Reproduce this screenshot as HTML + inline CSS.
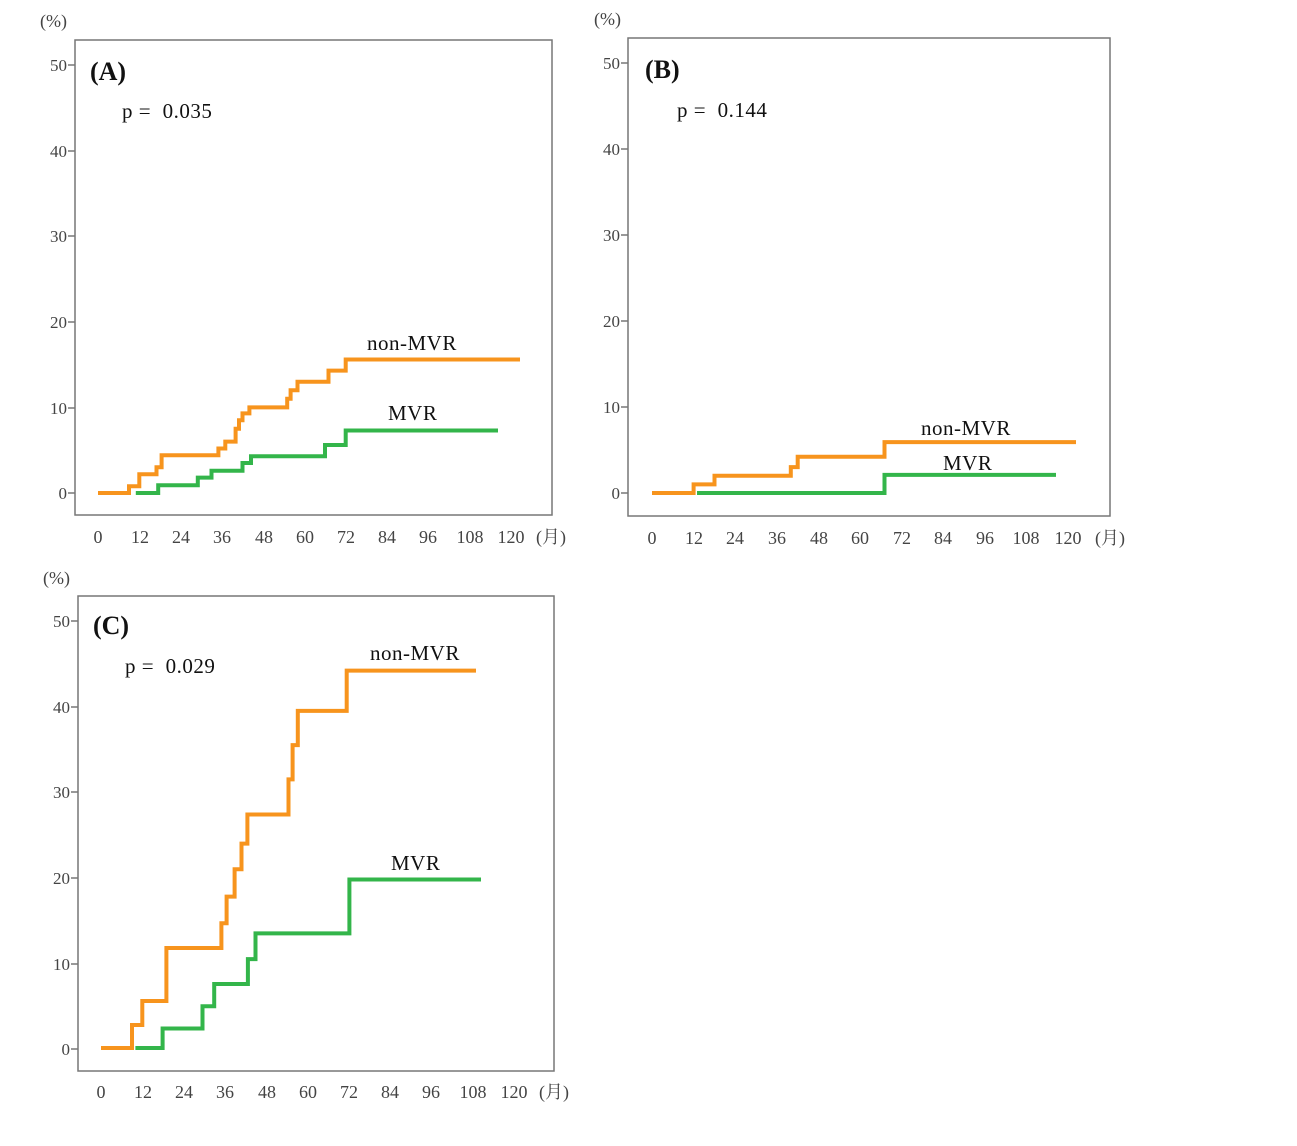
<!DOCTYPE html>
<html><head><meta charset="utf-8"><style>
html,body{margin:0;padding:0;background:#fff;}
svg{display:block;}
text{font-family:"Liberation Serif","Noto Serif CJK SC",serif;}
.t{font-size:18px;fill:#444;}
.yl{font-size:17px;fill:#444;font-family:"Liberation Sans",sans-serif;}
.lab{font-size:21px;fill:#111;white-space:pre;letter-spacing:0.5px;}
.big{font-size:26px;fill:#111;font-weight:bold;}
.or{fill:none;stroke:#f7941d;stroke-width:4;}
.gr{fill:none;stroke:#33b54a;stroke-width:4;}
.box{fill:none;stroke:#777;stroke-width:1.5;}
</style></head><body>
<svg width="1297" height="1146" viewBox="0 0 1297 1146" xmlns="http://www.w3.org/2000/svg">
<!-- Panel A -->
<text x="40" y="27" class="t" font-size="16">(%)</text>
<rect x="75" y="40" width="477" height="475" class="box"/>
<g stroke="#777" stroke-width="1.5">
<line x1="68" y1="65" x2="75" y2="65"/><line x1="68" y1="151" x2="75" y2="151"/><line x1="68" y1="236" x2="75" y2="236"/><line x1="68" y1="322" x2="75" y2="322"/><line x1="68" y1="408" x2="75" y2="408"/><line x1="68" y1="493" x2="75" y2="493"/>
</g>
<g class="yl" text-anchor="end">
<text x="67" y="71">50</text><text x="67" y="157">40</text><text x="67" y="242">30</text><text x="67" y="328">20</text><text x="67" y="414">10</text><text x="67" y="499">0</text>
</g>
<g class="t" text-anchor="middle">
<text x="98" y="543">0</text><text x="140" y="543">12</text><text x="181" y="543">24</text><text x="222" y="543">36</text><text x="264" y="543">48</text><text x="305" y="543">60</text><text x="346" y="543">72</text><text x="387" y="543">84</text><text x="428" y="543">96</text><text x="470" y="543">108</text><text x="511" y="543">120</text><text x="551" y="543">(月)</text>
</g>
<text x="90" y="80" class="big">(A)</text>
<text x="122" y="118" class="lab">p =  0.035</text>
<text x="367" y="350" class="lab">non-MVR</text>
<text x="388" y="420" class="lab">MVR</text>
<path class="or" d="M98 493H129V486.2H139.3V474.2H156.5V467.3H161.6V455.3H218.4V448.5H225.3V441.6H235.6V428.8H239V420.2H242.5V413.4H249.4V407.4H287.2V398.8H290.6V390.3H297.5V381.7H328.5V370.6H345.7V359.5H520"/>
<path class="gr" d="M135.8 493H158.2V485.3H197.8V477.6H211.5V470.7H242.5V463H251V456.2H325V445H345.7V430.5H498"/>

<!-- Panel B -->
<text x="594" y="25" class="t" font-size="16">(%)</text>
<rect x="628" y="38" width="482" height="478" class="box"/>
<g stroke="#777" stroke-width="1.5">
<line x1="621" y1="63" x2="628" y2="63"/><line x1="621" y1="149" x2="628" y2="149"/><line x1="621" y1="235" x2="628" y2="235"/><line x1="621" y1="321" x2="628" y2="321"/><line x1="621" y1="407" x2="628" y2="407"/><line x1="621" y1="493" x2="628" y2="493"/>
</g>
<g class="yl" text-anchor="end">
<text x="620" y="69">50</text><text x="620" y="155">40</text><text x="620" y="241">30</text><text x="620" y="327">20</text><text x="620" y="413">10</text><text x="620" y="499">0</text>
</g>
<g class="t" text-anchor="middle">
<text x="652" y="544">0</text><text x="694" y="544">12</text><text x="735" y="544">24</text><text x="777" y="544">36</text><text x="819" y="544">48</text><text x="860" y="544">60</text><text x="902" y="544">72</text><text x="943" y="544">84</text><text x="985" y="544">96</text><text x="1026" y="544">108</text><text x="1068" y="544">120</text><text x="1110" y="544">(月)</text>
</g>
<text x="645" y="78" class="big">(B)</text>
<text x="677" y="117" class="lab">p =  0.144</text>
<text x="921" y="435" class="lab">non-MVR</text>
<text x="943" y="470" class="lab">MVR</text>
<path class="or" d="M652 493H693.6V484.4H714.5V475.8H790.8V467.1H797.7V456.8H884.5V442.1H1076"/>
<path class="gr" d="M697 493H884.5V474.9H1056"/>

<!-- Panel C -->
<text x="43" y="584" class="t" font-size="16">(%)</text>
<rect x="78" y="596" width="476" height="475" class="box"/>
<g stroke="#777" stroke-width="1.5">
<line x1="71" y1="621" x2="78" y2="621"/><line x1="71" y1="707" x2="78" y2="707"/><line x1="71" y1="792" x2="78" y2="792"/><line x1="71" y1="878" x2="78" y2="878"/><line x1="71" y1="964" x2="78" y2="964"/><line x1="71" y1="1049" x2="78" y2="1049"/>
</g>
<g class="yl" text-anchor="end">
<text x="70" y="627">50</text><text x="70" y="713">40</text><text x="70" y="798">30</text><text x="70" y="884">20</text><text x="70" y="970">10</text><text x="70" y="1055">0</text>
</g>
<g class="t" text-anchor="middle">
<text x="101" y="1098">0</text><text x="143" y="1098">12</text><text x="184" y="1098">24</text><text x="225" y="1098">36</text><text x="267" y="1098">48</text><text x="308" y="1098">60</text><text x="349" y="1098">72</text><text x="390" y="1098">84</text><text x="431" y="1098">96</text><text x="473" y="1098">108</text><text x="514" y="1098">120</text><text x="554" y="1098">(月)</text>
</g>
<text x="93" y="634" class="big">(C)</text>
<text x="125" y="673" class="lab">p =  0.029</text>
<text x="370" y="660" class="lab">non-MVR</text>
<text x="391" y="870" class="lab">MVR</text>
<path class="or" d="M101 1048H132V1025H142.3V1001H166.4V948H221.4V923.2H226.6V896.6H234.6V869.2H241.5V843.6H247.4V814.5H288.5V779.4H292.6V745.1H297.8V710.9H346.7V670.6H476"/>
<path class="gr" d="M135.4 1048H162.6V1028.5H202.5V1006.2H214.2V984H247.9V959.1H255.5V933.4H349.4V879.5H481"/>
</svg>
</body></html>
